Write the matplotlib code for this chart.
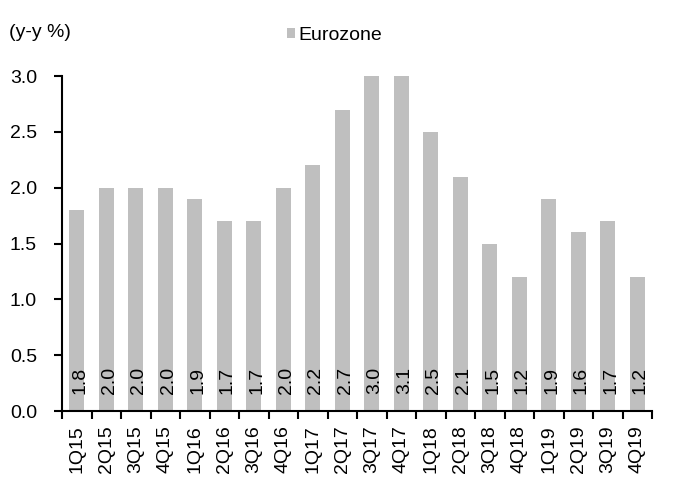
import matplotlib
matplotlib.use("Agg")
import matplotlib.pyplot as plt
from matplotlib.ticker import FixedLocator, MultipleLocator, FormatStrFormatter

plt.rcParams['font.family'] = ['Liberation Sans', 'DejaVu Sans']

quarters = ["1Q15", "2Q15", "3Q15", "4Q15", "1Q16", "2Q16", "3Q16", "4Q16",
            "1Q17", "2Q17", "3Q17", "4Q17", "1Q18", "2Q18", "3Q18", "4Q18",
            "1Q19", "2Q19", "3Q19", "4Q19"]
eurozone = [1.8, 2.0, 2.0, 2.0, 1.9, 1.7, 1.7, 2.0,
            2.2, 2.7, 3.0, 3.1, 2.5, 2.1, 1.5, 1.2,
            1.9, 1.6, 1.7, 1.2]

FS = 14
bar_color = "#BFBFBF"

fig = plt.figure(figsize=(6.93, 4.78), dpi=100)
ax = fig.add_axes([0.0895, 0.140, 0.8515, 0.701])

x = list(range(len(quarters)))
ax.bar(x, eurozone, width=0.5, color=bar_color, label="Eurozone", zorder=2)

for xi, v in zip(x, eurozone):
    ax.text(xi + 0.1, 0.27, f"{v:.1f}", rotation=90, ha="center", va="center",
            fontsize=FS, color="black", zorder=3)

ax.set_xlim(-0.5, len(quarters) - 0.5)
ax.set_ylim(0, 3.0)
ax.yaxis.set_major_locator(MultipleLocator(0.5))
ax.yaxis.set_major_formatter(FormatStrFormatter("%.1f"))

ax.set_xticks(x)
ax.set_xticklabels(quarters, rotation=90, fontsize=FS)
ax.xaxis.set_minor_locator(FixedLocator([i - 0.5 for i in range(len(quarters) + 1)]))
ax.tick_params(axis="x", which="major", length=0, pad=10)
ax.tick_params(axis="x", which="minor", length=6, width=1.5, direction="out")
ax.tick_params(axis="y", length=6, width=1.5, direction="out", labelsize=FS, pad=12)

for s in ("top", "right"):
    ax.spines[s].set_visible(False)
for s in ("left", "bottom"):
    ax.spines[s].set_linewidth(1.5)

fig.text(0.013, 0.931, "(y-y %)", fontsize=FS, ha="left", va="center")
ax.legend(loc="center", bbox_to_anchor=(0.462, 1.122), frameon=False, fontsize=FS,
          handlelength=0.42, handleheight=0.42, handletextpad=0.2)

fig.savefig("out.png", dpi=100)
